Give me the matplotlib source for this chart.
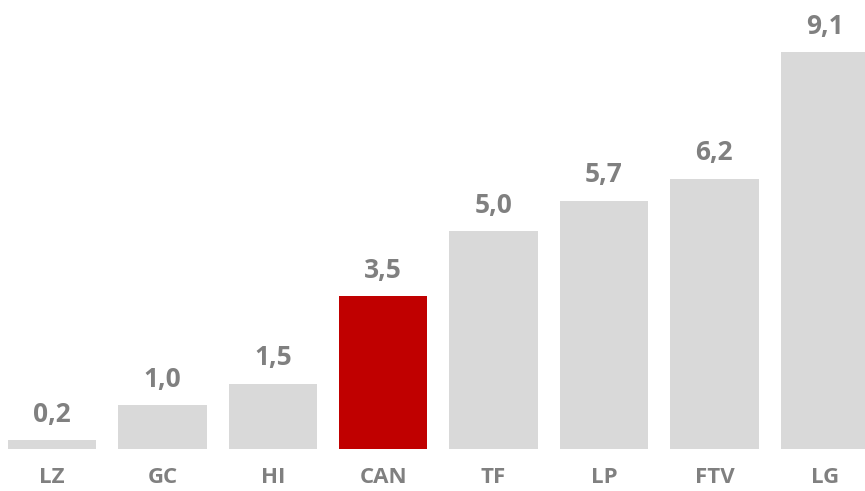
import matplotlib.pyplot as plt

# datos
regiones = ['LZ', 'GC', 'HI', 'CAN', 'TF', 'LP', 'FTV', 'LG']
valores = [0.2, 1.0, 1.5, 3.5, 5.0, 5.7, 6.2, 9.1]
destacado = 'CAN'

gris = '#D9D9D9'
rojo = '#C00000'
texto = '#808080'

plt.rcParams['font.family'] = ['Open Sans', 'DejaVu Sans']

fig = plt.figure(figsize=(8.65, 4.91), dpi=100)
ax = fig.add_axes([0, 42 / 491, 1, 449 / 491])

colores = [rojo if r == destacado else gris for r in regiones]
barras = ax.bar(range(len(regiones)), valores, width=0.8, color=colores)

for b, v in zip(barras, valores):
    ax.annotate(f'{v:.1f}'.replace('.', ','),
                (b.get_x() + b.get_width() / 2, b.get_height()),
                xytext=(0, 9), textcoords='offset points',
                ha='center', va='bottom', fontsize=19, fontweight='bold', color=texto)

ax.set_xticks(range(len(regiones)))
ax.set_xticklabels(regiones, fontsize=16, fontweight='bold', color=texto)
ax.tick_params(axis='x', length=0, pad=13)
ax.set_yticks([])
ax.set_xlim(-0.471, 7.364)
ax.set_ylim(0, 10.3)
for s in ax.spines.values():
    s.set_visible(False)

plt.savefig('out.png', dpi=100)
